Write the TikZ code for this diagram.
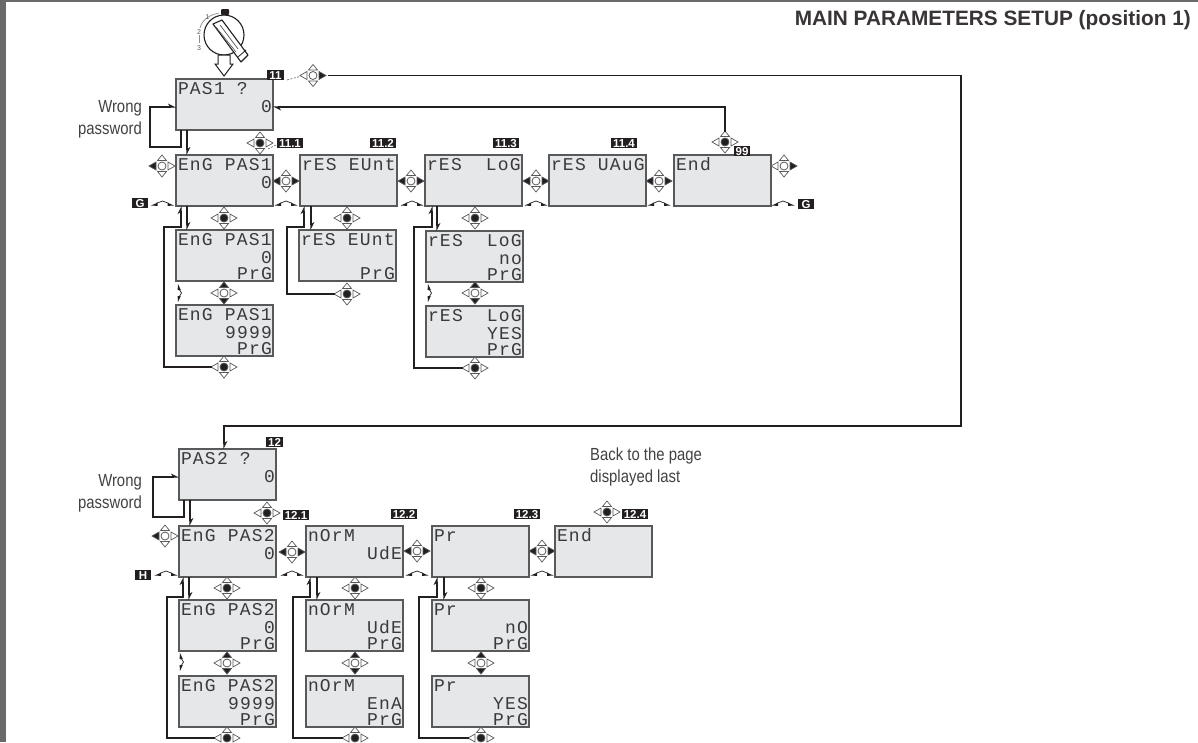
\documentclass[tikz,border=0pt]{standalone}
\usepackage{fontspec}
\setmainfont{Liberation Sans}
\newfontfamily\lcdfont[LetterSpace=6.7]{Liberation Mono}
\newfontfamily\condfont[FakeStretch=0.85]{Liberation Sans}
\usetikzlibrary{arrows.meta,calc}
\definecolor{scr}{HTML}{E6E7E8}
\definecolor{edge}{HTML}{58595B}
\definecolor{ink}{HTML}{231F20}
\definecolor{lcd}{HTML}{3A3A3C}
\tikzset{
  x=1pt,y=-1pt,
  screenbox/.style={draw=edge,fill=scr,line width=1.2pt,minimum width=97pt,minimum height=51pt,inner sep=0,outer sep=0},
  lcdtext/.style={font=\lcdfont\fontsize{18}{18}\selectfont,text=lcd,inner sep=0,outer sep=0},
  conn/.style={draw=ink,line width=1.1pt},
  halfarrow/.style={conn,-{Stealth[left,length=7pt,width=7pt]}},
  tagbox/.style={fill=ink,text=white,font=\bfseries\fontsize{11.5}{11}\selectfont,inner sep=0,minimum height=10pt,outer sep=0,text height=8pt,text depth=0pt},
  navdot/.style={circle,draw=edge,line width=.8pt,minimum size=8pt,inner sep=0,outer sep=0},
  navtri/.style={draw=edge,line width=.7pt,line join=miter},
  captext/.style={font=\condfont\fontsize{17.5}{18}\selectfont,text=ink!85,inner sep=0},
  hint/.style={draw=edge,line width=.6pt,dash pattern=on 2pt off 1.5pt},
}
% screen: name, x, y, line1, line2, line3
\newcommand{\screen}[6]{%
  \node[screenbox] (#1) at (#2+48.5,#3+25.5) {};
  \if\relax\detokenize{#4}\relax\else\node[lcdtext,anchor=base west] (#1a) at (#2+2,#3+15) {#4};\fi
  \if\relax\detokenize{#5}\relax\else\node[lcdtext,anchor=base east] (#1b) at (#2+96,#3+33) {#5};\fi
  \if\relax\detokenize{#6}\relax\else\node[lcdtext,anchor=base east] (#1c) at (#2+96,#3+49) {#6};\fi
}
% nav: name, x, y, centre, L, R, U, D (each ink or white)
\newcommand{\nav}[8]{%
  \node[navdot,fill=#4] (#1) at (#2,#3) {};
  \filldraw[fill=#5,navtri,shift={(#2,#3)}] (-13,0) -- (-6,-4) -- (-6,4) -- cycle;
  \filldraw[fill=#6,navtri,shift={(#2,#3)}] (13,0) -- (6,-4) -- (6,4) -- cycle;
  \filldraw[fill=#7,navtri,shift={(#2,#3)}] (0,-11) -- (-4.5,-5.5) -- (4.5,-5.5) -- cycle;
  \filldraw[fill=#8,navtri,shift={(#2,#3)}] (0,11) -- (-4.5,5.5) -- (4.5,5.5) -- cycle;
}
\newcommand{\lbl}[5]{\node[tagbox,minimum width=#4pt-#2pt,anchor=north west] (#1) at (#2,#3) {#5};}
\newcommand{\hatmark}[2]{%
  \draw[ink,line width=.7pt,shift={(#1,#2)}] (-6,-2.2) -- (0,-4.5) -- (6,-2.2);
  \fill[ink,shift={(#1,#2)}] (-11.5,0) -- (-5,-2.8) -- (-5,.4) -- cycle (11.5,0) -- (5,-2.8) -- (5,.4) -- cycle;
}
\newcommand{\vmark}[3]{%
  \draw[ink,line width=.7pt] (#1+.4,#2+4) -- (#1+3.5,#2/2+#3/2) -- (#1+.4,#3-4);
  \fill[ink] (#1,#2) -- (#1+2.8,#2+6) -- (#1-.4,#2+6) -- cycle (#1,#3) -- (#1+2.8,#3-6) -- (#1-.4,#3-6) -- cycle;
}
\begin{document}
\begin{tikzpicture}
\clip (0,0) rectangle (1198,742);
\fill[white] (0,0) rectangle (1198,742);
\fill[edge!90] (0,0) rectangle (6,742);
\fill[edge!90] (0,0) rectangle (1198,1.5);

% title and captions
\node[font=\bfseries\fontsize{20.8}{21}\selectfont,text=ink!90,anchor=east,inner sep=0] (title) at (1191,20) {MAIN PARAMETERS SETUP (position 1)};
\node[captext,anchor=east] (w1) at (142,108) {Wrong};
\node[captext,anchor=east] (w2) at (142,130) {password};
\node[captext,anchor=east] (w3) at (142,482) {Wrong};
\node[captext,anchor=east] (w4) at (142,504) {password};
\node[captext,anchor=west] (b1) at (590,456) {Back to the page};
\node[captext,anchor=west] (b2) at (590,478) {displayed last};

% selector switch
\draw[ink,line width=1.1pt,fill=white] (224,35) circle (20);
\draw[edge!70,line width=.7pt] (219,13) .. controls (209,15) and (202,20) .. (200,28);
\draw[edge!70,line width=.7pt] (199,35) -- (199,43);
\node[font=\fontsize{7}{7}\selectfont,text=edge,inner sep=0] (k1) at (207.5,17.5) {1};
\node[font=\fontsize{7}{7}\selectfont,text=edge,inner sep=0] (k2) at (199,32) {2};
\node[font=\fontsize{7}{7}\selectfont,text=edge,inner sep=0] (k3) at (199,48) {3};
\fill[ink,rounded corners=1pt] (221,9) rectangle (229,15);
\draw[ink,line width=.9pt] (222.5,10) arc (180:0:2.5);
\draw[ink,line width=1.1pt,fill=white,line join=round] (213,24) -- (222,20) -- (248,55) -- (241,62) -- cycle;
\draw[ink,line width=.8pt] (238,57) -- (246,50);
\draw[edge,line width=.7pt] (216,27) -- (236,52) (220,25) -- (238,49);
\draw[ink,line width=1pt,fill=white,line join=miter] (218,55) -- (230,55) -- (230,64) -- (233,64) -- (224,76) -- (215,64) -- (218,64) -- cycle;

% first block screens
\screen{p11}{176}{79}{PAS1 ?}{0}{}
\screen{a1}{176}{155}{EnG PAS1}{0}{}
\screen{a2}{300}{155}{rES EUnt}{}{}
\screen{a3}{425}{155}{rES~~LoG}{}{}
\screen{a4}{549}{155}{rES UAuG}{}{}
\screen{a5}{674}{155}{End}{}{}
\screen{b1s}{176}{230}{EnG PAS1}{0}{PrG}
\screen{b2s}{176}{305}{EnG PAS1}{9999}{PrG}
\screen{c1s}{299}{230}{rES EUnt}{}{PrG}
\screen{d1s}{426}{231}{rES~~LoG}{no}{PrG}
\screen{d2s}{426}{306}{rES~~LoG}{YES}{PrG}

% second block screens
\screen{p12}{179}{449}{PAS2 ?}{0}{}
\screen{e1}{179}{526}{EnG PAS2}{0}{}
\screen{e2}{306}{526}{nOrM}{UdE}{}
\screen{e3}{432}{526}{Pr}{}{}
\screen{e4}{555}{526}{End}{}{}
\screen{f1s}{179}{600}{EnG PAS2}{0}{PrG}
\screen{f2s}{179}{676}{EnG PAS2}{9999}{PrG}
\screen{g1s}{306}{600}{nOrM}{UdE}{PrG}
\screen{g2s}{306}{676}{nOrM}{EnA}{PrG}
\screen{h1s}{432}{600}{Pr}{nO}{PrG}
\screen{h2s}{432}{676}{Pr}{YES}{PrG}

% tags
\lbl{t11}{267}{70}{284}{11}
\lbl{t111}{277}{138}{303}{11.1}
\lbl{t112}{370}{138}{396}{11.2}
\lbl{t113}{493}{138}{519}{11.3}
\lbl{t114}{611}{138}{637}{11.4}
\lbl{t99}{734}{146}{750}{99}
\lbl{tg1}{132}{198}{148}{G}
\lbl{tg2}{798}{199}{814}{G}
\lbl{t12}{266}{437}{283}{12}
\lbl{t121}{283}{510}{309}{12.1}
\lbl{t122}{391}{509}{417}{12.2}
\lbl{t123}{514}{509}{540}{12.3}
\lbl{t124}{622}{509}{648}{12.4}
\lbl{th}{135}{570}{151}{H}

% navigation keys, first block
\nav{ntop}{313}{75.5}{white}{white}{ink}{white}{white}
\nav{n111}{260}{143}{ink}{white}{white}{white}{white}
\nav{nl1}{162}{166}{white}{ink}{white}{white}{white}
\nav{m1}{286}{181}{white}{ink}{ink}{white}{white}
\nav{m2}{411}{181}{white}{ink}{ink}{white}{white}
\nav{m3}{536}{181}{white}{ink}{ink}{white}{white}
\nav{m4}{659}{181}{white}{ink}{ink}{white}{white}
\nav{nr1}{784}{166}{white}{white}{ink}{white}{white}
\nav{n99}{725}{142}{ink}{white}{white}{white}{white}
\nav{q1}{224}{218}{ink}{white}{white}{white}{white}
\nav{q2}{224}{293}{white}{white}{white}{ink}{ink}
\nav{q3}{224}{367}{ink}{white}{white}{white}{white}
\nav{r1}{347}{218}{ink}{white}{white}{white}{white}
\nav{r2}{347}{294}{ink}{white}{white}{white}{white}
\nav{s1}{475}{218}{ink}{white}{white}{white}{white}
\nav{s2}{475}{293}{white}{white}{white}{ink}{ink}
\nav{s3}{475}{368}{ink}{white}{white}{white}{white}

% navigation keys, second block
\nav{n121}{267}{513}{ink}{white}{white}{white}{white}
\nav{n124}{607}{512}{ink}{white}{white}{white}{white}
\nav{nl2}{165}{536}{white}{ink}{white}{white}{white}
\nav{u1}{292}{552}{white}{ink}{ink}{white}{white}
\nav{u2}{417}{551}{white}{ink}{ink}{white}{white}
\nav{u3}{542}{551}{white}{ink}{ink}{white}{white}
\nav{v1}{227}{588}{ink}{white}{white}{white}{white}
\nav{v2}{227}{663}{white}{white}{white}{ink}{ink}
\nav{v3}{227}{738}{ink}{white}{white}{white}{white}
\nav{w1n}{355}{588}{ink}{white}{white}{white}{white}
\nav{w2n}{355}{663}{white}{white}{white}{ink}{ink}
\nav{w3n}{355}{738}{ink}{white}{white}{white}{white}
\nav{x1}{481}{588}{ink}{white}{white}{white}{white}
\nav{x2}{481}{663}{white}{white}{white}{ink}{ink}
\nav{x3}{481}{738}{ink}{white}{white}{white}{white}

% small hat marks
\hatmark{162.5}{205.5}\hatmark{286}{205.5}\hatmark{412}{205.5}\hatmark{536}{205.5}\hatmark{659}{205.5}\hatmark{783}{205.5}
\hatmark{166}{575.5}\hatmark{292}{575.5}\hatmark{417}{575.5}\hatmark{542}{575.5}
\vmark{178}{284}{302}\vmark{428}{284}{302}\vmark{180}{653}{671}

% hints from keys to tags
\draw[hint] ($(t11.south east)+(3,0)$) -- ($(ntop)+(-13,1)$);
\draw[hint] ($(t111.west)+(-1,2)$) -- ($(n111)+(8,6)$);

% routed bends
\coordinate (c1) at (961,75.5);
\coordinate (c2) at (961,426);
\coordinate (c3) at (224,426);
\coordinate (c4) at (224,449);
\coordinate (c5) at (725,107);

% page 11 to page 12
\draw[halfarrow] ($(ntop)+(15,0)$) -- (c1) -- (c2) -- (c3) -- (c4);
% End key back to password
\draw[halfarrow] ($(n99)+(0,-10)$) -- (c5) -- (c5 -| p11.east);

% wrong password loops
\coordinate (l1) at (150,107);
\coordinate (l2) at (150,147);
\coordinate (l3) at (181,147);
\draw[halfarrow] (l3 |- p11.south) -- (l3) -- (l2) -- (l1) -- (l1 -| p11.west);
\coordinate (l4) at (187,147);
\draw[halfarrow] (l4 |- p11.south) -- (l4 |- a1.north);
\coordinate (l5) at (153,477);
\coordinate (l6) at (153,517);
\coordinate (l7) at (184,517);
\draw[halfarrow] (l7 |- p12.south) -- (l7) -- (l6) -- (l5) -- (l5 -| p12.west);
\coordinate (l8) at (190,517);
\draw[halfarrow] (l8 |- p12.south) -- (l8 |- e1.north);

% enter / return pairs, first block
\coordinate (ra1) at (164,227);\coordinate (rb1) at (181,227);\coordinate (dn1) at (187,227);
\draw[halfarrow] ($(q3)+(-12,0)$) -- (ra1 |- q3) -- (ra1) -- (rb1) -- (rb1 |- a1.south);
\draw[halfarrow] (dn1 |- a1.south) -- (dn1 |- b1s.north);
\coordinate (ra2) at (287,227);\coordinate (rb2) at (304,227);\coordinate (dn2) at (311,227);
\draw[halfarrow] ($(r2)+(-12,0)$) -- (ra2 |- r2) -- (ra2) -- (rb2) -- (rb2 |- a2.south);
\draw[halfarrow] (dn2 |- a2.south) -- (dn2 |- c1s.north);
\coordinate (ra3) at (414,227);\coordinate (rb3) at (432,227);\coordinate (dn3) at (437,227);
\draw[halfarrow] ($(s3)+(-12,0)$) -- (ra3 |- s3) -- (ra3) -- (rb3) -- (rb3 |- a3.south);
\draw[halfarrow] (dn3 |- a3.south) -- (dn3 |- d1s.north);

% enter / return pairs, second block
\coordinate (ra4) at (167,597);\coordinate (rb4) at (183,597);\coordinate (dn4) at (189,597);
\draw[halfarrow] ($(v3)+(-12,0)$) -- (ra4 |- v3) -- (ra4) -- (rb4) -- (rb4 |- e1.south);
\draw[halfarrow] (dn4 |- e1.south) -- (dn4 |- f1s.north);
\coordinate (ra5) at (293,597);\coordinate (rb5) at (310,597);\coordinate (dn5) at (317,597);
\draw[halfarrow] ($(w3n)+(-12,0)$) -- (ra5 |- w3n) -- (ra5) -- (rb5) -- (rb5 |- e2.south);
\draw[halfarrow] (dn5 |- e2.south) -- (dn5 |- g1s.north);
\coordinate (ra6) at (419,597);\coordinate (rb6) at (437,597);\coordinate (dn6) at (444,597);
\draw[halfarrow] ($(x3)+(-12,0)$) -- (ra6 |- x3) -- (ra6) -- (rb6) -- (rb6 |- e3.south);
\draw[halfarrow] (dn6 |- e3.south) -- (dn6 |- h1s.north);
\end{tikzpicture}
\end{document}
